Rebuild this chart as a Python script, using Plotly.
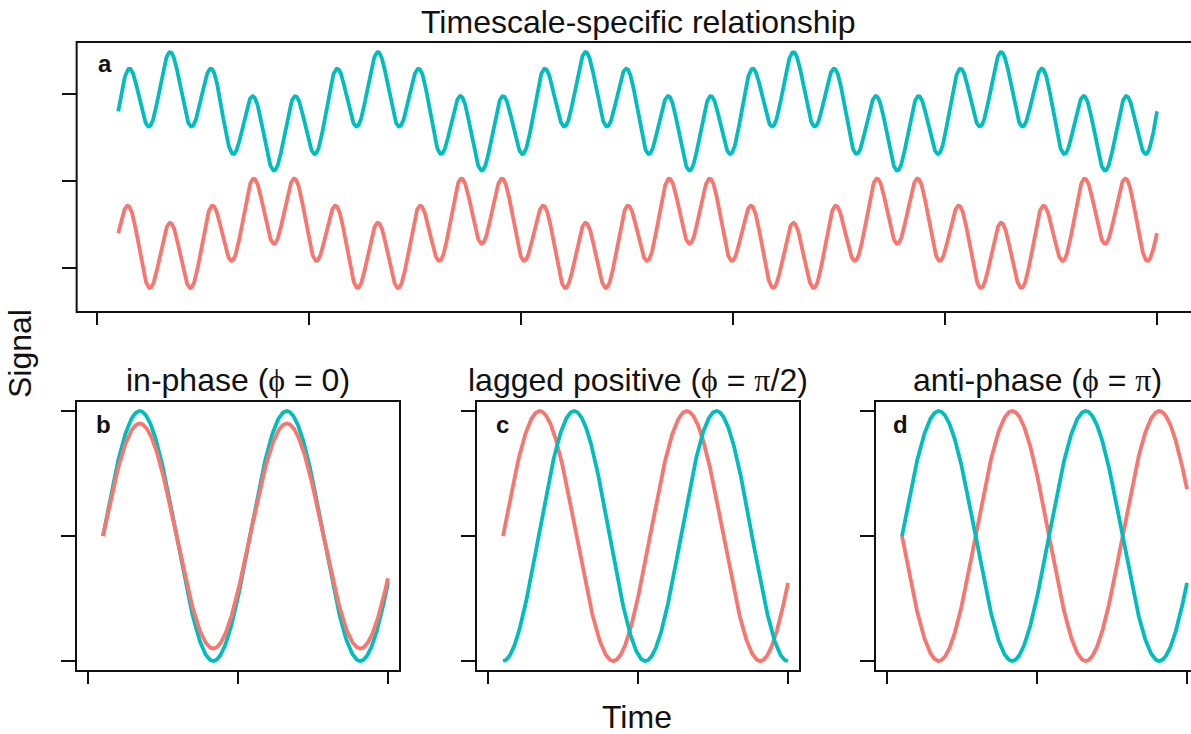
import numpy as np
import plotly.graph_objects as go

W, H = 1191, 734

# ---------------- data ----------------
series_names = ["teal signal", "salmon signal"]
series_colors = ["#00BDC0", "#F8766D"]

# Panel a: each signal = fast oscillation + slow oscillation + offset
a_time_range = [0.1, 5.0]
a_fast_period = [0.196, 0.196]      # teal, salmon
a_slow_period = [0.98, 0.98]
a_fast_amp = [1.0, 1.0]
a_slow_amp = [0.7, -0.7]            # slow parts anti-phase
a_offset = [2.0, -1.5]
a_xticks = [0, 1, 2, 3, 4, 5]
a_yticks = [-2.5, 0, 2.5]
a_yrange = [-3.76, 3.99]

# Panels b, c, d: single sinusoids (teal, salmon)
bcd_time_range = [0.1, 2.0]
b_period = [0.98, 0.98]
b_amp = [1.0, 0.9]
b_phase = [0.0, 0.0]
c_period = [0.949, 0.98]
c_amp = [1.0, 1.0]
c_phase = [-np.pi / 2, 0.0]
d_period = [0.98, 0.98]
d_amp = [1.0, 1.0]
d_phase = [0.0, np.pi]
bcd_xticks = [0, 1, 2]
bcd_yticks = [-1, 0, 1]

main_title = "Timescale-specific relationship"
SERIF = "font-family:'Liberation Serif','DejaVu Serif',serif"
panel_titles = [
    "in-phase (<span style=\"%s\">ϕ</span> = 0)" % SERIF,
    "lagged positive (<span style=\"%s\">ϕ</span> = <span style=\"%s\">π</span>/2)" % (SERIF, SERIF),
    "anti-phase (<span style=\"%s\">ϕ</span> = <span style=\"%s\">π</span>)" % (SERIF, SERIF),
]
panel_letters = ["a", "b", "c", "d"]
x_label = "Time"
y_label = "Signal"

# ---------------- layout geometry (pixels) ----------------
FONT = "Liberation Sans, Arial, Helvetica, sans-serif"
LINE_W = 3.8
# (pixel of x tick 0, pixels per x unit)
xmaps = {"a": (97.0, 212.0), "b": (88.0, 150.0), "c": (488.0, 150.0), "d": (887.0, 150.0)}
top_box = (42.0, 312.0)
bot_box = (401.0, 671.0)


def padded(r):
    d = r[1] - r[0]
    return [r[0] - 0.04 * d, r[1] + 0.04 * d]


fig = go.Figure()
shapes = []


def setup_axes(idx, key, xr, xticks, ybox, yr, yticks):
    tick0, ppu = xmaps[key]
    px0 = tick0 + xr[0] * ppu
    px1 = tick0 + xr[1] * ppu
    if px1 > W:
        xr_clip = [xr[0], xr[0] + (xr[1] - xr[0]) * (W - px0) / (px1 - px0)]
        dom = [px0 / W, 1.0]
    else:
        xr_clip = list(xr)
        dom = [px0 / W, px1 / W]
    sfx = "" if idx == 1 else str(idx)
    common = dict(showgrid=False, zeroline=False, showline=False, showticklabels=False,
                  ticks="outside", tickwidth=2, tickcolor="#111111")
    fig.update_layout(**{
        "xaxis" + sfx: dict(domain=dom, range=xr_clip, tickvals=xticks, ticklen=12,
                            anchor="y" + sfx, **common),
        "yaxis" + sfx: dict(domain=[1 - ybox[1] / H, 1 - ybox[0] / H], range=yr,
                            tickvals=yticks, ticklen=14, anchor="x" + sfx, **common),
    })
    shapes.append(dict(type="rect", xref="paper", yref="paper",
                       x0=px0 / W, x1=px1 / W, y0=1 - ybox[1] / H, y1=1 - ybox[0] / H,
                       line=dict(color="#111111", width=2), layer="above"))
    return "x" + sfx, "y" + sfx


# Panel a
xa, ya = setup_axes(1, "a", padded(a_time_range), a_xticks, top_box, a_yrange, a_yticks)
t_a = np.linspace(a_time_range[0], a_time_range[1], 3000)
for i in range(2):
    y = (a_offset[i]
         + a_fast_amp[i] * np.sin(2 * np.pi * (t_a - a_time_range[0]) / a_fast_period[i])
         + a_slow_amp[i] * np.sin(2 * np.pi * (t_a - a_time_range[0]) / a_slow_period[i]))
    fig.add_trace(go.Scatter(x=t_a, y=y, mode="lines", name=series_names[i],
                             line=dict(color=series_colors[i], width=LINE_W),
                             xaxis=xa, yaxis=ya, showlegend=False))

t_b = np.linspace(bcd_time_range[0], bcd_time_range[1], 800)
bcd_specs = [("b", 2, b_period, b_amp, b_phase, [0, 1]),
             ("c", 3, c_period, c_amp, c_phase, [1, 0]),
             ("d", 4, d_period, d_amp, d_phase, [1, 0])]
for key, idx, periods, amps, phases, order in bcd_specs:
    xx, yy = setup_axes(idx, key, padded([0, bcd_time_range[1]]), bcd_xticks, bot_box,
                        padded([-1, 1]), bcd_yticks)
    for i in order:
        y = amps[i] * np.sin(2 * np.pi * (t_b - bcd_time_range[0]) / periods[i] + phases[i])
        fig.add_trace(go.Scatter(x=t_b, y=y, mode="lines", name=series_names[i],
                                 line=dict(color=series_colors[i], width=LINE_W),
                                 xaxis=xx, yaxis=yy, showlegend=False))

annotations = []


def txt(text, px, py, size, angle=0):
    annotations.append(dict(text=text, x=px / W, y=1 - py / H, xref="paper", yref="paper",
                            xanchor="center", yanchor="middle", showarrow=False,
                            textangle=angle, font=dict(family=FONT, size=size, color="#111111")))


txt(main_title, 638, 22, 32)
txt(panel_titles[0], 238, 380, 32)
txt(panel_titles[1], 638, 380, 32)
txt(panel_titles[2], 1037, 380, 32)
txt(y_label, 20, 354, 32, angle=-90)
txt(x_label, 637, 717, 32)
for letter, (px, py) in zip(panel_letters, [(105, 64), (103, 425), (503, 425), (900, 425)]):
    txt("<b>%s</b>" % letter, px, py, 24)

fig.update_layout(width=W, height=H, margin=dict(l=0, r=0, t=0, b=0),
                  paper_bgcolor="white", plot_bgcolor="white",
                  shapes=shapes, annotations=annotations, showlegend=False)

fig.write_html("out.html")
